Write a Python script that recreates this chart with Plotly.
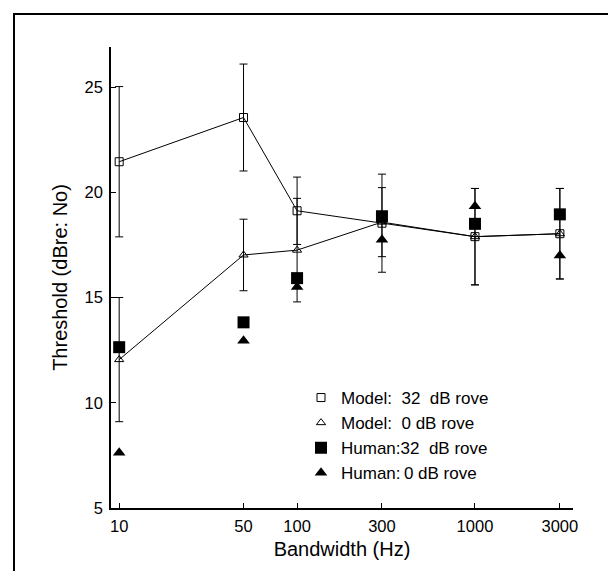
import plotly.graph_objects as go

# ---- data ----
bandwidth = [10, 50, 100, 300, 1000, 3000]
model_32 = [21.45, 23.55, 19.12, 18.53, 17.89, 18.03]
model_32_err = [3.57, 2.54, 1.60, 2.33, 2.29, 2.15]
model_0 = [12.05, 17.02, 17.25, 18.58, 17.89, 18.03]
model_0_err = [2.95, 1.70, 2.46, 1.64, 2.29, 2.15]
human_32 = [12.64, 13.82, 15.92, 18.86, 18.50, 18.95]
human_0 = [7.63, 12.95, 15.50, 17.74, 19.33, 16.99]
x_ticks = [10, 50, 100, 300, 1000, 3000]
y_ticks = [5, 10, 15, 20, 25]

W, H = 616, 571
ML, MR, MT, MB = 103, 51, 39, 71
FONT = "Liberation Sans, Arial, Helvetica, sans-serif"

fig = go.Figure()

# connecting lines for the model series
for ys in (model_32, model_0):
    fig.add_trace(go.Scatter(x=bandwidth, y=ys, mode="lines",
                             line=dict(color="black", width=1),
                             showlegend=False, hoverinfo="skip"))

fig.add_trace(go.Scatter(
    x=bandwidth, y=model_32, mode="markers",
    name="Model:\u00a0\u00a032\u00a0\u00a0dB rove",
    marker=dict(symbol="square-open", size=8, color="black", line=dict(width=1)),
    error_y=dict(type="data", array=model_32_err, visible=True,
                 color="black", thickness=1, width=4)))
fig.add_trace(go.Scatter(
    x=bandwidth, y=model_0, mode="markers",
    name="Model:\u00a0\u00a00 dB rove",
    marker=dict(symbol="triangle-up-open", size=8, color="black", line=dict(width=1)),
    error_y=dict(type="data", array=model_0_err, visible=True,
                 color="black", thickness=1, width=4)))
fig.add_trace(go.Scatter(
    x=bandwidth, y=human_32, mode="markers",
    name="Human:32\u00a0\u00a0dB rove",
    marker=dict(symbol="square", size=12, color="black")))
fig.add_trace(go.Scatter(
    x=bandwidth, y=human_0, mode="markers",
    name="Human:\u20090 dB rove",
    marker=dict(symbol="triangle-up", size=11, color="black")))

pw = W - ML - MR
ph = H - MT - MB
def px_x(p):
    return (p - ML) / pw
def px_y(p):
    return (H - MB - p) / ph

# outer frame
fig.add_shape(type="rect", xref="paper", yref="paper",
              x0=px_x(6), x1=px_x(611), y0=px_y(580), y1=px_y(6),
              line=dict(color="black", width=2), layer="below")

fig.update_layout(
    width=W, height=H,
    margin=dict(l=ML, r=MR, t=MT, b=MB),
    paper_bgcolor="white", plot_bgcolor="white",
    font=dict(family=FONT, size=16.5, color="black"),
    showlegend=True,
    legend=dict(x=px_x(293), y=px_y(372), xanchor="left", yanchor="top",
                bgcolor="rgba(0,0,0,0)", font=dict(size=17),
                itemwidth=30, tracegroupgap=0),
    xaxis=dict(type="log", range=[0.954, 3.551],
               tickvals=x_ticks, ticktext=[str(v) for v in x_ticks],
               ticks="inside", ticklen=5, tickcolor="black", tickwidth=1,
               ticklabelstandoff=2,
               showline=True, linecolor="black", linewidth=2,
               showgrid=False, zeroline=False,
               title=dict(text="Bandwidth (Hz)", standoff=8)),
    yaxis=dict(range=[5, 26.9], tickvals=y_ticks,
               ticks="inside", ticklen=5, tickcolor="black", tickwidth=1,
               ticklabelstandoff=3,
               showline=True, linecolor="black", linewidth=1.5,
               showgrid=False, zeroline=False,
               title=dict(text="Threshold (dBre: No)", standoff=12)),
)

fig.write_html("out.html")
